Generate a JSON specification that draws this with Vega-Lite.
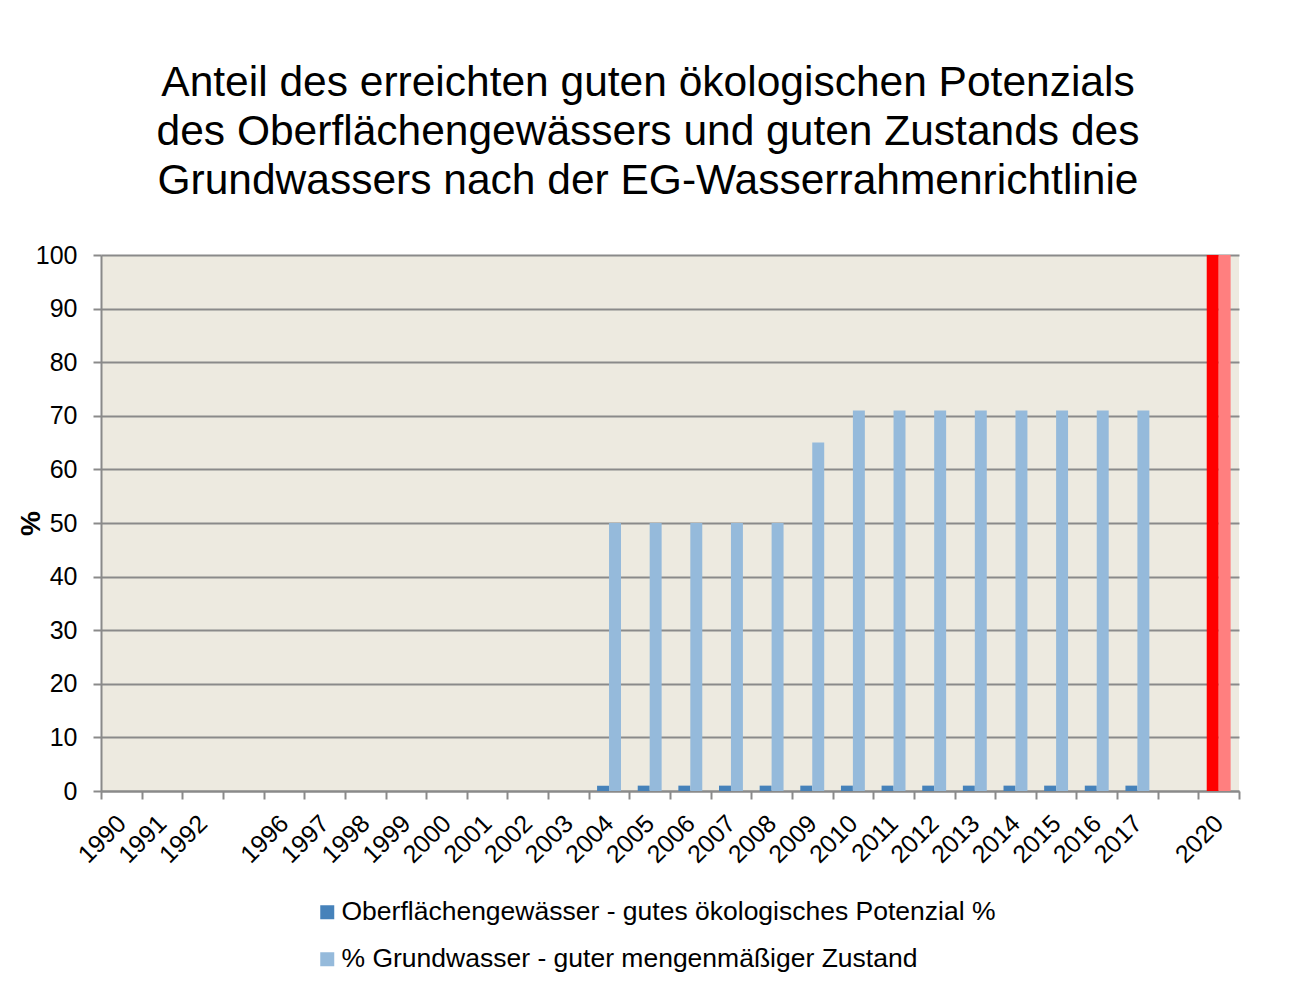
{
  "$schema": "https://vega.github.io/schema/vega-lite/v6.json",
  "width": 1138,
  "height": 536,
  "padding": {"left": 17, "top": 61, "right": 10, "bottom": 10},
  "background": "white",
  "title": {
    "text": ["Anteil des erreichten guten ökologischen Potenzials", "des Oberflächengewässers und guten Zustands des", "Grundwassers nach der EG-Wasserrahmenrichtlinie"],
    "font": "Liberation Sans",
    "fontSize": 42.5,
    "fontWeight": "normal",
    "color": "black",
    "lineHeight": 49,
    "anchor": "middle",
    "dx": -22,
    "offset": 41
  },
  "config": {
    "font": "Liberation Sans",
    "view": {"fill": "#EDEAE0", "stroke": null},
    "axis": {"labelColor": "black", "titleColor": "black", "domainColor": "#8A8A8A", "tickColor": "#8A8A8A", "gridColor": "#8A8A8A", "domainWidth": 2, "tickWidth": 2, "gridWidth": 2}
  },
  "data": {
    "values": [
      {"jahr": "2004", "reihe": "A", "kat": "Oberflächengewässer - gutes ökologisches Potenzial %", "wert": 1},
      {"jahr": "2005", "reihe": "A", "kat": "Oberflächengewässer - gutes ökologisches Potenzial %", "wert": 1},
      {"jahr": "2006", "reihe": "A", "kat": "Oberflächengewässer - gutes ökologisches Potenzial %", "wert": 1},
      {"jahr": "2007", "reihe": "A", "kat": "Oberflächengewässer - gutes ökologisches Potenzial %", "wert": 1},
      {"jahr": "2008", "reihe": "A", "kat": "Oberflächengewässer - gutes ökologisches Potenzial %", "wert": 1},
      {"jahr": "2009", "reihe": "A", "kat": "Oberflächengewässer - gutes ökologisches Potenzial %", "wert": 1},
      {"jahr": "2010", "reihe": "A", "kat": "Oberflächengewässer - gutes ökologisches Potenzial %", "wert": 1},
      {"jahr": "2011", "reihe": "A", "kat": "Oberflächengewässer - gutes ökologisches Potenzial %", "wert": 1},
      {"jahr": "2012", "reihe": "A", "kat": "Oberflächengewässer - gutes ökologisches Potenzial %", "wert": 1},
      {"jahr": "2013", "reihe": "A", "kat": "Oberflächengewässer - gutes ökologisches Potenzial %", "wert": 1},
      {"jahr": "2014", "reihe": "A", "kat": "Oberflächengewässer - gutes ökologisches Potenzial %", "wert": 1},
      {"jahr": "2015", "reihe": "A", "kat": "Oberflächengewässer - gutes ökologisches Potenzial %", "wert": 1},
      {"jahr": "2016", "reihe": "A", "kat": "Oberflächengewässer - gutes ökologisches Potenzial %", "wert": 1},
      {"jahr": "2017", "reihe": "A", "kat": "Oberflächengewässer - gutes ökologisches Potenzial %", "wert": 1},
      {"jahr": "2004", "reihe": "B", "kat": "% Grundwasser - guter mengenmäßiger Zustand", "wert": 50},
      {"jahr": "2005", "reihe": "B", "kat": "% Grundwasser - guter mengenmäßiger Zustand", "wert": 50},
      {"jahr": "2006", "reihe": "B", "kat": "% Grundwasser - guter mengenmäßiger Zustand", "wert": 50},
      {"jahr": "2007", "reihe": "B", "kat": "% Grundwasser - guter mengenmäßiger Zustand", "wert": 50},
      {"jahr": "2008", "reihe": "B", "kat": "% Grundwasser - guter mengenmäßiger Zustand", "wert": 50},
      {"jahr": "2009", "reihe": "B", "kat": "% Grundwasser - guter mengenmäßiger Zustand", "wert": 65},
      {"jahr": "2010", "reihe": "B", "kat": "% Grundwasser - guter mengenmäßiger Zustand", "wert": 71},
      {"jahr": "2011", "reihe": "B", "kat": "% Grundwasser - guter mengenmäßiger Zustand", "wert": 71},
      {"jahr": "2012", "reihe": "B", "kat": "% Grundwasser - guter mengenmäßiger Zustand", "wert": 71},
      {"jahr": "2013", "reihe": "B", "kat": "% Grundwasser - guter mengenmäßiger Zustand", "wert": 71},
      {"jahr": "2014", "reihe": "B", "kat": "% Grundwasser - guter mengenmäßiger Zustand", "wert": 71},
      {"jahr": "2015", "reihe": "B", "kat": "% Grundwasser - guter mengenmäßiger Zustand", "wert": 71},
      {"jahr": "2016", "reihe": "B", "kat": "% Grundwasser - guter mengenmäßiger Zustand", "wert": 71},
      {"jahr": "2017", "reihe": "B", "kat": "% Grundwasser - guter mengenmäßiger Zustand", "wert": 71},
      {"jahr": "2020", "reihe": "A", "kat": "Ziel Oberflächengewässer", "wert": 100},
      {"jahr": "2020", "reihe": "B", "kat": "Ziel Grundwasser", "wert": 100}
    ]
  },
  "mark": {"type": "bar"},
  "encoding": {
    "x": {
      "field": "jahr",
      "type": "nominal",
      "scale": {
        "domain": ["1990", "1991", "1992", " ", "1996", "1997", "1998", "1999", "2000", "2001", "2002", "2003", "2004", "2005", "2006", "2007", "2008", "2009", "2010", "2011", "2012", "2013", "2014", "2015", "2016", "2017", "  ", "2020"],
        "paddingInner": 0,
        "paddingOuter": 0
      },
      "axis": {
        "title": null,
        "tickBand": "extent",
        "labelAngle": -45,
        "labelAlign": "right",
        "labelBaseline": "middle",
        "labelFontSize": 25,
        "labelPadding": 20,
        "tickSize": 8
      }
    },
    "xOffset": {
      "field": "reihe",
      "type": "nominal",
      "scale": {"domain": ["A", "B"], "paddingInner": 0, "paddingOuter": 0.7}
    },
    "y": {
      "field": "wert",
      "type": "quantitative",
      "scale": {"domain": [0, 100]},
      "axis": {
        "title": "%",
        "titleFontSize": 28,
        "titleFontWeight": "bold",
        "titlePadding": -10,
        "labelFontSize": 25,
        "labelPadding": 16,
        "tickSize": 8,
        "values": [0, 10, 20, 30, 40, 50, 60, 70, 80, 90, 100]
      }
    },
    "color": {
      "field": "kat",
      "type": "nominal",
      "scale": {
        "domain": ["Oberflächengewässer - gutes ökologisches Potenzial %", "% Grundwasser - guter mengenmäßiger Zustand", "Ziel Oberflächengewässer", "Ziel Grundwasser"],
        "range": ["#4682BA", "#95BADB", "#FF0000", "#FF7F7F"]
      },
      "legend": {
        "values": ["Oberflächengewässer - gutes ökologisches Potenzial %", "% Grundwasser - guter mengenmäßiger Zustand"],
        "title": null,
        "orient": "none",
        "direction": "vertical",
        "legendX": 213,
        "legendY": 644,
        "labelFontSize": 26.5,
        "labelColor": "black",
        "labelLimit": 0,
        "symbolType": "square",
        "symbolSize": 196,
        "symbolStrokeWidth": 0,
        "rowPadding": 20,
        "labelOffset": 1
      }
    }
  }
}
